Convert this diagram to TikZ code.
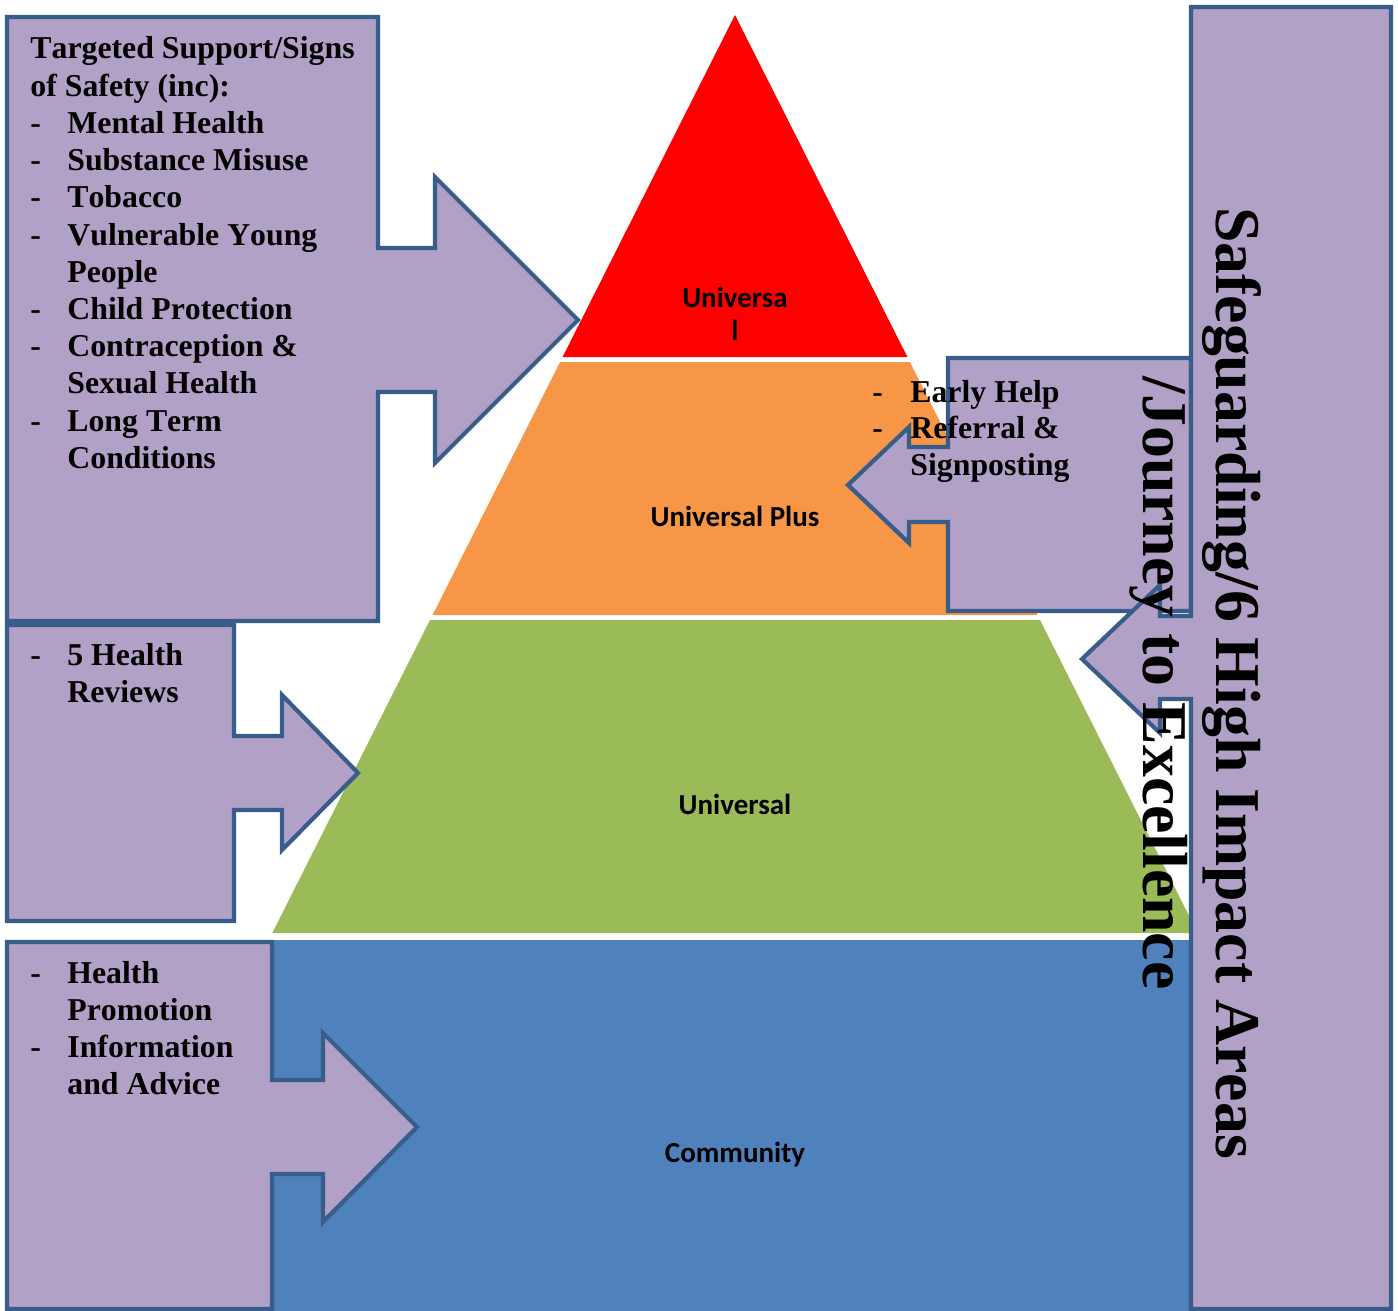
\documentclass[tikz,border=0pt]{standalone}
\usepackage{fontspec}
\setmainfont{Liberation Serif}[Kerning=Off]
\newfontfamily\tierfont{Carlito}

\definecolor{lilac}{HTML}{B2A1C7}
\definecolor{edgeblue}{HTML}{385D8A}
\definecolor{tierred}{HTML}{FF0000}
\definecolor{tierorange}{HTML}{F79646}
\definecolor{tiergreen}{HTML}{9BBB59}
\definecolor{tierblue}{HTML}{4F81BD}

% bullet lines: dash, then text at a fixed indent
\newcommand\dashitem[1]{\makebox[18.5pt][l]{-}#1}
\newcommand\contitem[1]{\hspace*{18.5pt}#1}
\newcommand\dashitemR[1]{\makebox[19pt][l]{-}#1}
\newcommand\contitemR[1]{\hspace*{19pt}#1}

\begin{document}
\begin{tikzpicture}[x=0.5pt,y=-0.5pt,
  callout/.style={fill=lilac, draw=edgeblue, line width=2.1pt, line join=miter, miter limit=10},
  tierlabel/.style={font=\tierfont\bfseries\fontsize{14.5}{17}\selectfont, anchor=base, inner sep=0pt},
  item/.style={font=\bfseries\fontsize{15.9}{18}\selectfont, anchor=base west, inner sep=0pt},
  sidetext/.style={font=\bfseries\fontsize{31.9}{37}\selectfont, anchor=base, inner sep=0pt, rotate=-90}]

\useasboundingbox (0,0) rectangle (1398,1311);
\begin{scope}
\clip (0,0) rectangle (1398,1311);

% pyramid tiers
\fill[tierred]    (735,15) -- (907.4,357) -- (562.6,357) -- cycle;
\fill[tierorange] (560.1,362) -- (909.9,362) -- (1037.4,615) -- (432.6,615) -- cycle;
\fill[tiergreen]  (430,620) -- (1040,620) -- (1197.7,933) -- (272.3,933) -- cycle;
\fill[tierblue]   (268.8,940) -- (1201.2,940) -- (1388.2,1311) -- (81.8,1311) -- cycle;

% tier labels
\node[tierlabel] (tierA1) at (735,307) {Universa};
\node[tierlabel] (tierA2) at (735,340) {l};
\node[tierlabel] (tierB)  at (735,526) {Universal Plus};
\node[tierlabel] (tierC)  at (735,814) {Universal};
\node[tierlabel] (tierD)  at (735,1162) {Community};

% left callouts
\draw[callout] (7,17) -- (378,17) -- (378,248) -- (435,248) -- (435,177) -- (578,320)
  -- (435,463) -- (435,392) -- (378,392) -- (378,621) -- (7,621) -- cycle;
\draw[callout] (7,625) -- (234,625) -- (234,736) -- (282,736) -- (282,695) -- (358,773)
  -- (282,850) -- (282,810) -- (234,810) -- (234,921) -- (7,921) -- cycle;
\draw[callout] (7,942) -- (272,942) -- (272,1080) -- (323,1080) -- (323,1033) -- (417,1127)
  -- (323,1222) -- (323,1174) -- (272,1174) -- (272,1309) -- (7,1309) -- cycle;

% right callouts
\draw[callout] (948,358) -- (1191,358) -- (1191,611) -- (948,611) -- (948,522) -- (909,522)
  -- (909,543) -- (848,485) -- (909,427) -- (909,447) -- (948,447) -- cycle;
\draw[callout] (1191,7) -- (1391,7) -- (1391,1309) -- (1191,1309) -- (1191,699) -- (1160,699)
  -- (1160,733) -- (1082,659) -- (1160,585) -- (1160,616) -- (1191,616) -- cycle;
\end{scope}

% text of the top-left callout
\foreach \t [count=\i from 0] in {Targeted Support/Signs, of Safety (inc):,
  \dashitem{Mental Health}, \dashitem{Substance Misuse}, \dashitem{Tobacco},
  \dashitem{Vulnerable Young}, \contitem{People}, \dashitem{Child Protection},
  \dashitem{Contraception \&}, \contitem{Sexual Health}, \dashitem{Long Term},
  \contitem{Conditions}}
  \node[item] (ts\i) at (30,59+37.2*\i) {\t};

% text of the middle-left callout
\node[item] (hr1) at (30,665) {\dashitem{5 Health}};
\node[item] (hr2) at (30,702) {\contitem{Reviews}};

% text of the bottom-left callout
\node[item] (hp1) at (30,983) {\dashitem{Health}};
\node[item] (hp2) at (30,1020.3) {\contitem{Promotion}};
\node[item] (hp3) at (30,1057.6) {\dashitem{Information}};
\node[item] (hp4) at (30,1094.9) {\contitem{and Advice}};

% text of the middle-right callout
\node[item] (eh1) at (872,402) {\dashitemR{Early Help}};
\node[item] (eh2) at (872,438.5) {\dashitemR{Referral \&}};
\node[item] (eh3) at (872,475) {\contitemR{Signposting}};

% vertical text of the tall right callout
\node[sidetext] (sg1) at (1216,683) {Safeguarding/6 High Impact Areas};
\node[sidetext] (sg2) at (1143,683) {/Journey to Excellence};
\end{tikzpicture}
\end{document}
